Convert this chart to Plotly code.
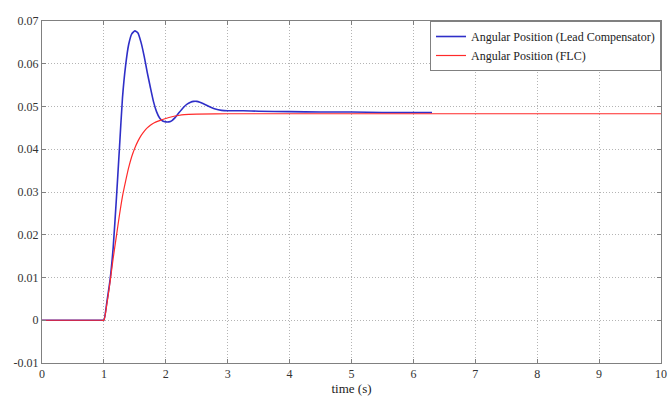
import plotly.graph_objects as go

# Lead compensator response
t_lead = [0, 0.5, 0.9, 0.97, 1.0, 1.05, 1.1, 1.15, 1.2, 1.25, 1.3, 1.35, 1.4, 1.45, 1.5, 1.55, 1.6, 1.65,
          1.7, 1.75, 1.8, 1.85, 1.9, 1.95, 2.0, 2.05, 2.1, 2.15, 2.2, 2.25, 2.3, 2.35,
          2.4, 2.45, 2.5, 2.55, 2.6, 2.7, 2.8, 2.9, 3.0, 3.25, 3.5, 4.0, 4.5, 5.0, 5.5,
          6.0, 6.3]
y_lead = [0, 0, 0, 0, 0, 0.0045, 0.0095, 0.017, 0.028, 0.040, 0.052, 0.0595, 0.0645, 0.0670,
          0.0677, 0.0672, 0.0650, 0.0618, 0.0580, 0.0545, 0.0512, 0.0488, 0.0473,
          0.0466, 0.0464, 0.0464, 0.0467, 0.0474, 0.0483, 0.0492, 0.0500, 0.0506,
          0.0510, 0.0512, 0.0512, 0.0510, 0.0507, 0.0500, 0.0494, 0.0491, 0.0490,
          0.0490, 0.0489, 0.0488, 0.0487, 0.0487, 0.0486, 0.0486, 0.0486]

# FLC response
t_flc = [0, 0.5, 0.9, 0.97, 1.0, 1.05, 1.1, 1.15, 1.2, 1.25, 1.3, 1.35, 1.4, 1.45, 1.5, 1.55, 1.6, 1.65,
         1.7, 1.75, 1.8, 1.9, 2.0, 2.1, 2.2, 2.3, 2.5, 3.0, 10.0]
y_flc = [0, 0, 0, 0, 0, 0.004, 0.009, 0.0145, 0.0195, 0.0245, 0.0290, 0.0325, 0.0357, 0.0383,
         0.0403, 0.0419, 0.0432, 0.0442, 0.0450, 0.0456, 0.0461, 0.0467, 0.0472,
         0.0476, 0.0479, 0.0481, 0.0482, 0.0483, 0.0483]

x_ticks = list(range(0, 11))
y_ticks = [-0.01, 0, 0.01, 0.02, 0.03, 0.04, 0.05, 0.06, 0.07]
y_tick_text = ["-0.01", "0", "0.01", "0.02", "0.03", "0.04", "0.05", "0.06", "0.07"]

font_family = "Liberation Serif"

fig = go.Figure()
fig.add_trace(go.Scatter(x=t_lead, y=y_lead, mode="lines",
                         name="Angular Position (Lead Compensator)",
                         line=dict(color="#2f2fc8", width=1.6, shape="spline", smoothing=0.5)))
fig.add_trace(go.Scatter(x=t_flc, y=y_flc, mode="lines",
                         name="Angular Position (FLC)",
                         line=dict(color="#ff2a2a", width=1.2, shape="spline", smoothing=0.6)))

axis_common = dict(showline=True, linecolor="#808080", linewidth=1, mirror="ticks",
                   ticks="inside", ticklen=4, tickcolor="#808080",
                   showgrid=True, gridcolor="#b4b4b4", griddash="1px,2px", gridwidth=1,
                   zeroline=False, ticklabeloverflow="allow",
                   tickfont=dict(family=font_family, size=12, color="#333333"))

fig.update_xaxes(range=[0, 10], tickvals=x_ticks,
                 title=dict(text="time (s)", font=dict(family=font_family, size=13, color="#222222"),
                            standoff=1),
                 **axis_common)
fig.update_yaxes(range=[-0.01, 0.07], tickvals=y_ticks, ticktext=y_tick_text, **axis_common)

fig.update_layout(
    width=671, height=396,
    font=dict(family=font_family, size=12, color="#222222"),
    margin=dict(l=42, r=4, t=21, b=33),
    plot_bgcolor="white", paper_bgcolor="white",
    showlegend=True,
    legend=dict(x=1, y=1, xanchor="right", yanchor="top",
                bgcolor="white", bordercolor="#808080", borderwidth=1,
                font=dict(family=font_family, size=12, color="#222222"),
                tracegroupgap=0, itemwidth=30),
)

fig.write_html("out.html")
